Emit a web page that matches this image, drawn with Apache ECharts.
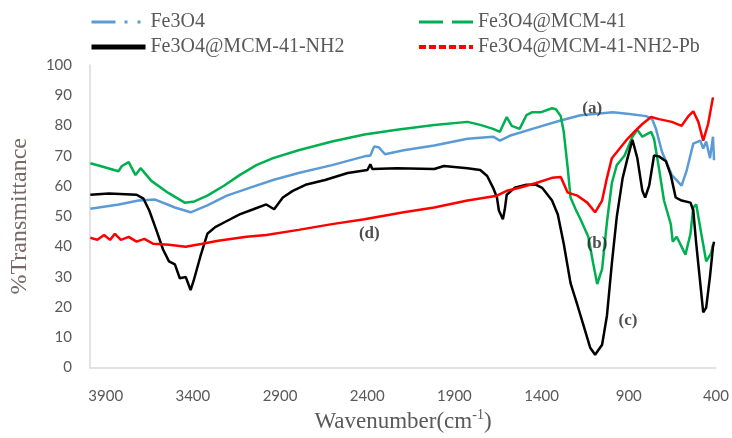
<!DOCTYPE html>
<html>
<head>
<meta charset="utf-8">
<script src="https://cdn.jsdelivr.net/npm/echarts@6/dist/echarts.min.js"></script>
<style>html,body{margin:0;padding:0;background:#fff}#c{width:732px;height:438px}</style>
</head>
<body>
<div id="c"></div>
<script>
// Series names
const seriesNames = ['Fe3O4', 'Fe3O4@MCM-41', 'Fe3O4@MCM-41-NH2', 'Fe3O4@MCM-41-NH2-Pb'];
// x-axis tick labels (wavenumber, cm-1)
const xTicks = [3900, 3400, 2900, 2400, 1900, 1400, 900, 400];
// [wavenumber, %T]
const fe3o4 = [[3988,52.5],[3930,53.0],[3824,53.9],[3712,55.2],[3616,55.5],[3503,52.9],[3413,51.3],[3317,53.6],[3205,56.8],[3075,59.4],[2940,62.0],[2794,64.3],[2602,66.9],[2416,69.8],[2382,70.1],[2360,73.1],[2332,72.7],[2298,70.5],[2191,71.8],[2016,73.4],[1825,75.6],[1678,76.3],[1639,75.0],[1583,76.6],[1453,78.9],[1301,81.5],[1177,83.4],[991,84.4],[896,83.8],[800,83.1],[766,82.1],[744,78.9],[710,71.4],[653,63.6],[597,60.1],[569,64.9],[530,74.0],[490,75.0],[473,72.4],[456,74.7],[434,69.2],[417,76.3],[411,68.5]];
const mcm41 = [[3988,67.5],[3931,66.6],[3827,64.9],[3807,66.6],[3768,67.9],[3729,63.6],[3700,65.9],[3638,61.7],[3543,57.8],[3447,54.5],[3391,54.9],[3317,56.8],[3222,60.1],[3132,63.6],[3036,66.9],[2940,69.2],[2794,71.8],[2602,74.7],[2416,77.0],[2230,78.6],[2016,80.2],[1825,81.2],[1752,80.2],[1678,78.9],[1639,77.9],[1600,82.8],[1571,79.9],[1526,78.9],[1487,83.4],[1453,84.4],[1402,84.4],[1340,85.7],[1318,85.4],[1290,83.1],[1273,77.9],[1250,65.9],[1234,56.2],[1205,52.3],[1177,49.0],[1132,43.2],[1104,34.4],[1081,27.6],[1053,32.5],[1025,48.1],[997,61.0],[969,66.9],[924,70.1],[879,76.3],[851,78.6],[822,76.3],[772,77.9],[755,75.6],[727,65.9],[698,55.2],[659,47.4],[648,41.6],[625,43.2],[575,37.3],[546,44.2],[530,52.9],[513,53.9],[484,44.2],[456,35.1],[428,37.7],[417,40.6]];
const nh2 = [[3988,57.1],[3881,57.5],[3723,57.1],[3683,55.8],[3650,51.9],[3610,45.5],[3571,39.0],[3537,35.1],[3503,34.1],[3475,29.5],[3441,29.9],[3413,25.6],[3396,28.6],[3357,36.7],[3317,44.2],[3272,46.4],[3216,48.1],[3132,50.6],[3053,52.3],[2979,53.9],[2934,52.3],[2884,56.2],[2827,58.4],[2754,60.4],[2642,62.0],[2512,64.3],[2399,65.3],[2382,67.2],[2371,65.6],[2230,65.9],[2016,65.6],[1960,66.6],[1825,65.9],[1752,65.3],[1712,63.3],[1678,59.4],[1656,56.2],[1645,51.9],[1622,49.0],[1611,52.3],[1600,57.1],[1555,59.4],[1487,60.4],[1431,60.4],[1397,59.4],[1340,55.2],[1307,50.6],[1273,40.9],[1234,27.9],[1194,20.5],[1160,14.0],[1121,6.5],[1093,4.2],[1053,7.5],[1025,17.2],[997,34.4],[969,49.7],[935,62.7],[907,69.2],[879,75.3],[851,69.2],[822,58.4],[806,56.2],[783,60.1],[755,70.1],[727,69.8],[687,68.2],[659,63.6],[631,56.2],[597,55.2],[546,54.5],[530,51.9],[513,40.9],[490,27.9],[473,18.2],[456,19.8],[434,30.2],[417,39.9],[411,41.6]];
const pb = [[3988,42.9],[3948,42.2],[3909,43.8],[3875,42.2],[3847,44.2],[3813,42.2],[3768,43.2],[3723,41.6],[3678,42.5],[3627,40.9],[3537,40.6],[3441,39.9],[3346,40.9],[3255,41.9],[3092,43.2],[2979,43.8],[2794,45.5],[2602,47.4],[2416,49.0],[2191,51.3],[2016,52.9],[1825,55.2],[1656,56.8],[1600,58.4],[1526,59.4],[1431,61.0],[1340,62.7],[1290,63.0],[1250,57.8],[1194,56.8],[1138,54.5],[1093,51.3],[1053,55.2],[1025,62.7],[997,69.2],[952,72.4],[907,75.6],[856,78.6],[822,80.5],[772,82.8],[727,82.1],[653,81.2],[597,79.9],[558,83.1],[530,84.7],[501,81.2],[473,75.0],[445,80.5],[417,89.3]];
// curve labels
const annotations = [['(a)',1110,85.5],['(b)',1082,41.1],['(c)',905,15.5],['(d)',2388,44.3]];

const colors = ['#5B9BD5', '#00B050', '#000000', '#FF0000'];
const datas = [fe3o4, mcm41, nh2, pb];

const chart = echarts.init(document.getElementById('c'), null, {renderer: 'canvas'});
const legendText = {fontFamily: 'Liberation Serif', fontSize: 20, color: '#595959'};
const series = seriesNames.map((n, i) => ({
  name: n, type: 'line', data: datas[i], symbol: 'none', showSymbol: false,
  lineStyle: {color: colors[i], width: 2.5}, itemStyle: {color: colors[i]},
  animation: false, silent: true, z: 2 + i
}));
series.push({
  type: 'scatter', symbolSize: 0, silent: true, animation: false, z: 10,
  data: annotations.map(a => ({value: [a[1], a[2]], name: a[0]})),
  label: {show: true, position: 'inside', formatter: p => p.name, fontFamily: 'Liberation Serif', fontWeight: 'bold', fontSize: 17, color: '#222'}
});
const noSym = {opacity: 0};
chart.setOption({
  animation: false,
  grid: {left: 81, right: 14, top: 65, bottom: 55, containLabel: false},
  legend: [
    {left: 84, top: 7, orient: 'vertical', itemWidth: 54, itemHeight: 14, itemGap: 5, selectedMode: false, textStyle: legendText,
     data: [{name: seriesNames[0], itemStyle: noSym, lineStyle: {type: [24, 9, 3, 10, 3, 10], width: 3}},
            {name: seriesNames[2], itemStyle: noSym, lineStyle: {width: 5}}]},
    {left: 412, top: 7, orient: 'vertical', itemWidth: 54, itemHeight: 14, itemGap: 5, selectedMode: false, textStyle: legendText,
     data: [{name: seriesNames[1], itemStyle: noSym, lineStyle: {type: [24, 9], width: 3}},
            {name: seriesNames[3], itemStyle: noSym, lineStyle: {type: [7, 3], width: 4}}]}
  ],
  xAxis: {
    type: 'value', inverse: true, min: 400, max: 3990, interval: 100,
    axisLine: {show: true, lineStyle: {color: '#d9d9d9', width: 1.5}},
    axisTick: {show: false}, splitLine: {show: false},
    axisLabel: {margin: 21, fontFamily: 'Lato', fontSize: 15, color: '#595959',
      formatter: v => xTicks.indexOf(v) >= 0 ? String(v) : ''},
    name: '{a|Wavenumber(cm}{s|-1}{a|)}', nameLocation: 'middle', nameGap: 41,
    nameTextStyle: {rich: {a: {fontFamily: 'Liberation Serif', fontSize: 23, color: '#595959'},
                           s: {fontFamily: 'Liberation Serif', fontSize: 14, color: '#595959', verticalAlign: 'top', padding: [0, 0, 12, 0]}}}
  },
  yAxis: {
    type: 'value', min: 0, max: 100, interval: 10,
    axisLine: {show: true, lineStyle: {color: '#d9d9d9', width: 1.5}},
    axisTick: {show: false}, splitLine: {show: false},
    axisLabel: {margin: 18, fontFamily: 'Lato', fontSize: 15, color: '#595959'},
    name: '%Transmittance', nameLocation: 'middle', nameGap: 58, nameRotate: 90,
    nameTextStyle: {fontFamily: 'Liberation Serif', fontSize: 24, color: '#7a6868'}
  },
  series: series
});
</script>
</body>
</html>
